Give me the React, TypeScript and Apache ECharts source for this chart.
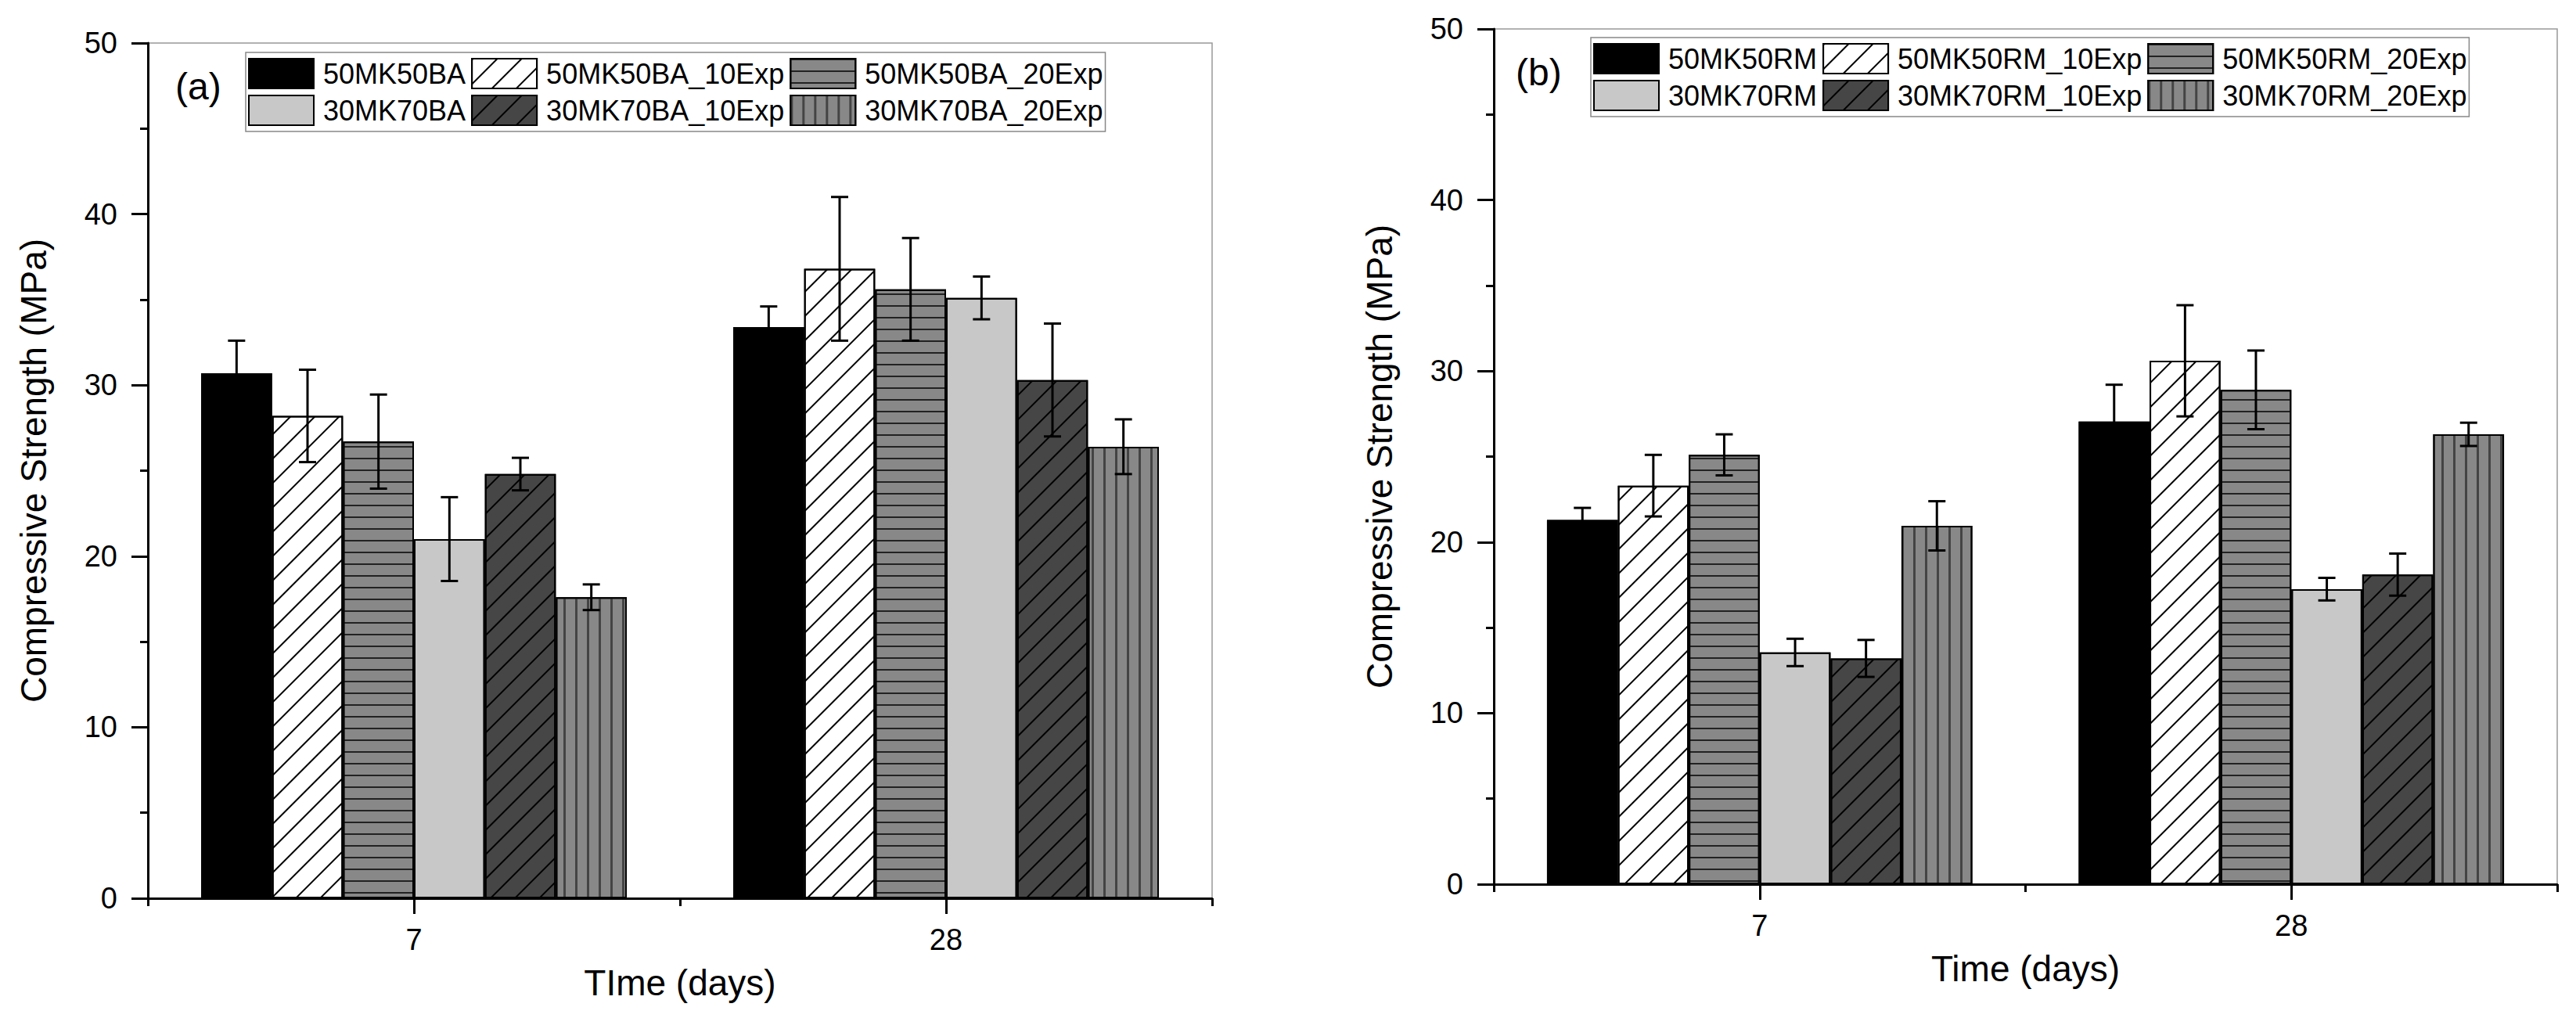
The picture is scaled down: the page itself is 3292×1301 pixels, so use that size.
import React, { useEffect, useRef } from "react";
import * as echarts from "echarts";

const FONT = "'Liberation Sans', Arial, Helvetica, sans-serif";

// ---------- data ----------
const days = ["7", "28"];

const namesA = [
  "50MK50BA",
  "50MK50BA_10Exp",
  "50MK50BA_20Exp",
  "30MK70BA",
  "30MK70BA_10Exp",
  "30MK70BA_20Exp",
];
const namesB = [
  "50MK50RM",
  "50MK50RM_10Exp",
  "50MK50RM_20Exp",
  "30MK70RM",
  "30MK70RM_10Exp",
  "30MK70RM_20Exp",
];

// panel (a) mean values [7 d, 28 d]
const a50MK50BA = [30.7, 33.4];
const a50MK50BA_10 = [28.2, 36.8];
const a50MK50BA_20 = [26.7, 35.6];
const a30MK70BA = [21.0, 35.1];
const a30MK70BA_10 = [24.8, 30.3];
const a30MK70BA_20 = [17.6, 26.4];
// panel (a) error (±)
const eA50MK50BA = [1.9, 1.2];
const eA50MK50BA_10 = [2.7, 4.2];
const eA50MK50BA_20 = [2.75, 3.0];
const eA30MK70BA = [2.45, 1.25];
const eA30MK70BA_10 = [0.95, 3.3];
const eA30MK70BA_20 = [0.75, 1.6];

// panel (b) mean values [7 d, 28 d]
const b50MK50RM = [21.3, 27.05];
const b50MK50RM_10 = [23.3, 30.6];
const b50MK50RM_20 = [25.1, 28.9];
const b30MK70RM = [13.55, 17.25];
const b30MK70RM_10 = [13.2, 18.1];
const b30MK70RM_20 = [20.95, 26.3];
// panel (b) error (±)
const eB50MK50RM = [0.7, 2.15];
const eB50MK50RM_10 = [1.8, 3.25];
const eB50MK50RM_20 = [1.2, 2.3];
const eB30MK70RM = [0.8, 0.66];
const eB30MK70RM_10 = [1.08, 1.23];
const eB30MK70RM_20 = [1.44, 0.68];

const yTicks = { min: 0, max: 50, interval: 10 };

// ---------- styles ----------
const noDecal = { symbol: "none" };
const diag = {
  symbol: "rect",
  symbolSize: 1,
  dashArrayX: [1, 0],
  dashArrayY: [2, 20],
  rotation: -Math.PI / 4,
  color: "#000",
};
const horiz = {
  symbol: "rect",
  symbolSize: 1,
  dashArrayX: [1, 0],
  dashArrayY: [2, 13],
  rotation: 0,
  color: "#222",
};
const vert = {
  symbol: "rect",
  symbolSize: 1,
  dashArrayX: [3, 12],
  dashArrayY: [1, 0],
  rotation: 0,
  color: "#444",
};

const fills = ["#000000", "#ffffff", "#888888", "#c8c8c8", "#464646", "#888888"];
const decals = [noDecal, diag, horiz, noDecal, diag, vert];

const CAT_GAP = 0.2;

function barSeries(name: string, idx: number, vals: number[], xi: number, yi: number) {
  return {
    type: "bar",
    name,
    xAxisIndex: xi,
    yAxisIndex: yi,
    data: vals,
    barGap: "0%",
    barCategoryGap: CAT_GAP * 100 + "%",
    z: 2,
    itemStyle: {
      color: fills[idx],
      borderColor: "#000",
      borderWidth: 2,
      decal: decals[idx],
    },
  };
}

function errSeries(idx: number, vals: number[], errs: number[], xi: number, yi: number) {
  return {
    type: "custom",
    xAxisIndex: xi,
    yAxisIndex: yi,
    z: 5,
    silent: true,
    data: vals.map((v, i) => [i, v - errs[i], v + errs[i]]),
    renderItem: (params: any, api: any) => {
      const i = api.value(0);
      const lo = api.coord([i, api.value(1)]);
      const hi = api.coord([i, api.value(2)]);
      const band = api.size([1, 0])[0];
      const bw = (band * (1 - CAT_GAP)) / 6;
      const x = lo[0] - (band * (1 - CAT_GAP)) / 2 + (idx + 0.5) * bw;
      const cap = 11;
      const style = { stroke: "#000", lineWidth: 3 };
      return {
        type: "group",
        children: [
          { type: "line", shape: { x1: x, y1: lo[1], x2: x, y2: hi[1] }, style },
          { type: "line", shape: { x1: x - cap, y1: hi[1], x2: x + cap, y2: hi[1] }, style },
          { type: "line", shape: { x1: x - cap, y1: lo[1], x2: x + cap, y2: lo[1] }, style },
        ],
      };
    },
  };
}

function xAxes(gridIndex: number, title: string) {
  return [
    {
      type: "category",
      gridIndex,
      data: days,
      position: "bottom",
      name: title,
      nameLocation: "middle",
      nameGap: 85,
      nameTextStyle: { fontSize: 46, fontFamily: FONT, color: "#000" },
      axisLine: { show: true, lineStyle: { color: "#000", width: 3 } },
      axisTick: { show: true, alignWithLabel: true, length: 20, lineStyle: { color: "#000", width: 3 } },
      axisLabel: { fontSize: 38, fontFamily: FONT, color: "#000", margin: 34 },
      splitLine: { show: false },
    },
    {
      type: "category",
      gridIndex,
      data: days,
      position: "bottom",
      axisLine: { show: false },
      axisTick: { show: true, alignWithLabel: false, length: 10, lineStyle: { color: "#000", width: 3 } },
      axisLabel: { show: false },
      splitLine: { show: false },
    },
  ];
}

function yAxis(gridIndex: number) {
  return {
    type: "value",
    gridIndex,
    min: yTicks.min,
    max: yTicks.max,
    interval: yTicks.interval,
    name: "Compressive Strength (MPa)",
    nameLocation: "middle",
    nameGap: 123,
    nameTextStyle: { fontSize: 46, fontFamily: FONT, color: "#000" },
    axisLine: { show: true, lineStyle: { color: "#000", width: 3 } },
    axisTick: { show: true, length: 21, lineStyle: { color: "#000", width: 3 } },
    minorTick: { show: true, splitNumber: 2, length: 10, lineStyle: { color: "#000", width: 3 } },
    axisLabel: { fontSize: 38, fontFamily: FONT, color: "#000", margin: 39 },
    splitLine: { show: false },
    minorSplitLine: { show: false },
  };
}

function legend(names: string[], left: number, top: number, width: number) {
  return {
    data: names,
    left,
    top,
    width,
    orient: "horizontal",
    itemWidth: 83,
    itemHeight: 38,
    itemGap: 7,
    padding: [7, 3, 7, 3],
    borderColor: "#888",
    borderWidth: 1.5,
    backgroundColor: "#fff",
    selectedMode: false,
    icon: "rect",
    textStyle: { fontSize: 36, fontFamily: FONT, color: "#000", padding: [0, 3, 0, 7] },
    itemStyle: { borderColor: "#000", borderWidth: 2 },
  };
}

export default function App() {
  const ref = useRef<HTMLDivElement>(null);
  useEffect(() => {
    if (!ref.current) return;
    const chart = echarts.init(ref.current, null, { renderer: "svg" });
    const valsA = [a50MK50BA, a50MK50BA_10, a50MK50BA_20, a30MK70BA, a30MK70BA_10, a30MK70BA_20];
    const errsA = [eA50MK50BA, eA50MK50BA_10, eA50MK50BA_20, eA30MK70BA, eA30MK70BA_10, eA30MK70BA_20];
    const valsB = [b50MK50RM, b50MK50RM_10, b50MK50RM_20, b30MK70RM, b30MK70RM_10, b30MK70RM_20];
    const errsB = [eB50MK50RM, eB50MK50RM_10, eB50MK50RM_20, eB30MK70RM, eB30MK70RM_10, eB30MK70RM_20];

    const series: any[] = [];
    namesA.forEach((n, i) => series.push(barSeries(n, i, valsA[i], 0, 0)));
    namesB.forEach((n, i) => series.push(barSeries(n, i, valsB[i], 2, 1)));
    namesA.forEach((n, i) => series.push(errSeries(i, valsA[i], errsA[i], 0, 0)));
    namesB.forEach((n, i) => series.push(errSeries(i, valsB[i], errsB[i], 2, 1)));

    chart.setOption({
      animation: false,
      backgroundColor: "#fff",
      aria: { enabled: true, decal: { show: true } },
      textStyle: { fontFamily: FONT },
      grid: [
        { left: 189, top: 55, width: 1360, height: 1093, show: true, borderColor: "#999", borderWidth: 1.5, backgroundColor: "transparent" },
        { left: 1909, top: 37, width: 1359, height: 1093, show: true, borderColor: "#999", borderWidth: 1.5, backgroundColor: "transparent" },
      ],
      xAxis: [...xAxes(0, "TIme (days)"), ...xAxes(1, "Time (days)")],
      yAxis: [yAxis(0), yAxis(1)],
      legend: [legend(namesA, 314, 67, 1110), legend(namesB, 2033, 48, 1135)],
      graphic: [
        { type: "text", left: 224, top: 86, style: { text: "(a)", fontSize: 48, fontFamily: FONT, fill: "#000" } },
        { type: "text", left: 1937, top: 68, style: { text: "(b)", fontSize: 48, fontFamily: FONT, fill: "#000" } },
      ],
      series,
    });
    return () => chart.dispose();
  }, []);
  return (
    <div
      ref={ref}
      style={{ position: "absolute", left: 0, top: 0, width: 3292, height: 1301, background: "#fff" }}
    />
  );
}
